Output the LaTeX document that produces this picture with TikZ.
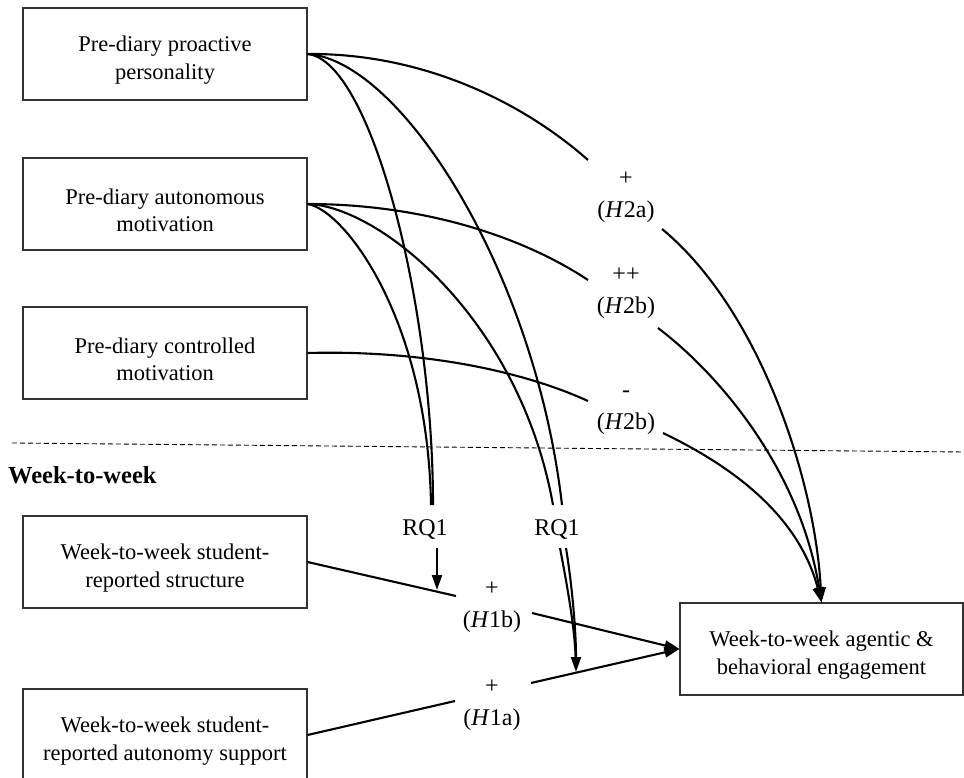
\documentclass[tikz,border=0pt]{standalone}
\usepackage{fontspec}
\setmainfont{Liberation Serif}
\usetikzlibrary{arrows.meta}
\newcommand{\lowerline}{\rule{0pt}{28pt}}
\begin{document}
\begin{tikzpicture}[x=1pt,y=-1pt,
  box/.style={draw=black!80, line width=1.1pt, minimum width=284pt, minimum height=92pt,
    align=center, font=\fontsize{22.5}{27.5}\selectfont, inner sep=0pt},
  lab/.style={align=center, font=\fontsize{24}{32}\selectfont, inner sep=0pt},
  conn/.style={line width=2.1pt},
  arr/.style={conn, -{Triangle[length=15pt,width=10pt]}}]
\useasboundingbox (0,0) rectangle (964,778);

% boxes
\node[box] (b1) at (165,54) {\lowerline Pre-diary proactive\\personality};
\node[box] (b2) at (165,204) {\lowerline Pre-diary autonomous\\motivation};
\node[box] (b3) at (165,353) {\lowerline Pre-diary controlled\\motivation};
\node[box] (b4) at (165,562) {\lowerline Week-to-week student-\\reported structure};
\node[box] (b5) at (165,735) {\lowerline Week-to-week student-\\reported autonomy support};
\node[box, minimum width=283pt] (b6) at (821.5,649) {\lowerline Week-to-week agentic \&\\behavioral engagement};

% section label and divider
\node[font=\bfseries\fontsize{24.5}{29}\selectfont, anchor=west, inner sep=0pt] (wk) at (8,475) {Week-to-week};
\draw[dash pattern=on 5pt off 3pt, line width=0.9pt] (12,443) -- (964,452);

% path labels
\node[lab] (la) at (626,196) {\vphantom{(}+\\(\textit{H}2a)};
\node[lab] (lb) at (626,292) {\vphantom{(}++\\(\textit{H}2b)};
\node[lab] (lc) at (626,408) {\vphantom{(}-\\(\textit{H}2b)};
\node[lab] (r1) at (425,529) {RQ1};
\node[lab] (r2) at (557,529) {RQ1};
\node[lab] (l1b) at (492,606) {\vphantom{(}+\\(\textit{H}1b)};
\node[lab] (l1a) at (492,704) {\vphantom{(}+\\(\textit{H}1a)};

\coordinate (t1) at (437,590);
\coordinate (t2) at (576,672);

% H2 paths
\draw[conn] (b1.east) .. controls (420,53) and (520,100) .. ([shift={(-38,-36)}]la.center);
\draw[arr] ([shift={(36,33)}]la.center) .. controls (760,310) and (815,480) .. (b6.north);
\draw[conn] (b2.east) .. controls (420,204) and (520,235) .. ([shift={(-38,-12)}]lb.center);
\draw[arr] ([shift={(32,36)}]lb.center) .. controls (720,375) and (800,470) .. (b6.north);
\draw[conn] (b3.east) .. controls (420,350) and (520,370) .. ([shift={(-38,-7)}]lc.center);
\draw[arr] ([shift={(37,25)}]lc.center) .. controls (740,470) and (800,520) .. (b6.north);

% RQ1 paths
\draw[conn] (b1.east) .. controls (370,60) and (433,300) .. ([shift={(8,-24)}]r1.center);
\draw[conn] (b2.east) .. controls (345,210) and (428,320) .. ([shift={(6,-24)}]r1.center);
\draw[conn] (b1.east) .. controls (400,60) and (535,270) .. ([shift={(5,-24)}]r2.center);
\draw[conn] (b2.east) .. controls (380,206) and (520,320) .. ([shift={(-4,-24)}]r2.center);
\draw[arr] ([shift={(12,19)}]r1.center) -- (t1);
\draw[conn, shorten >=12pt] ([shift={(3,19)}]r2.center) .. controls (568,590) and (575,630) .. (t2);
\draw[arr] ([shift={(9,19)}]r2.center) .. controls (572,585) and (576,630) .. (t2);

% H1 paths
\draw[conn] (b4.east) -- ([shift={(-36,-10)}]l1b.center);
\draw[arr] ([shift={(40,7)}]l1b.center) -- (b6.west);
\draw[conn] (b5.east) -- ([shift={(-37,-3)}]l1a.center);
\draw[arr] ([shift={(39,-21)}]l1a.center) -- (b6.west);
\end{tikzpicture}
\end{document}
